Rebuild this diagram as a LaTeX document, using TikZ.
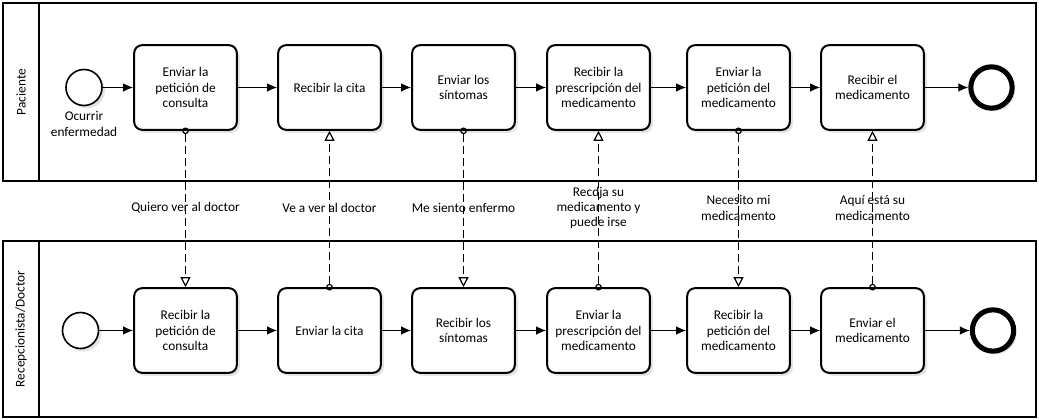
\documentclass[tikz,border=0pt]{standalone}
\usepackage{fontspec}
\setmainfont{Carlito}
\usetikzlibrary{arrows.meta,shadows}

\begin{document}
\begin{tikzpicture}[x=0.75pt,y=-0.75pt,
  font=\fontsize{10}{11.4}\selectfont,
  softshadow/.style={drop shadow={shadow xshift=2.2pt,shadow yshift=-2.2pt,opacity=0.22}},
  task/.style={draw,line width=1.5pt,rounded corners=6pt,minimum width=77pt,
    minimum height=63.5pt,align=center,fill=white,softshadow},
  startev/.style={draw,circle,line width=1.2pt,minimum size=27pt,inner sep=0pt,fill=white,softshadow},
  endev/.style={draw,circle,line width=3.8pt,minimum size=31pt,inner sep=0pt,fill=white,softshadow},
  seq/.style={-{Latex[length=7.5pt,width=6.5pt]},line width=1pt},
  msg/.style={{Circle[open,length=5pt]}-{Triangle[open,length=7.5pt,width=7.5pt]},
    dash pattern=on 6pt off 3pt,line width=0.9pt,shorten <=-2.5pt},
  msglabel/.style={align=center,inner sep=1pt}]

  \useasboundingbox (0,0) rectangle (1039,420);

  % pools
  \draw[line width=2.1pt] (3,3) rectangle (1036,181);
  \draw[line width=1.3pt] (39,3) -- (39,181);
  \node (lanepac) at (21,92) [rotate=90] {Paciente};

  \draw[line width=2.1pt] (3,241) rectangle (1036,417);
  \draw[line width=1.3pt] (39,241) -- (39,417);
  \node (lanedoc) at (21,329) [rotate=90] {Recepcionista/Doctor};

  % Paciente
  \node (s1) at (84,87.5)    [startev] {};
  \node (s1l) at (84,124)    [align=center] {Ocurrir\\enfermedad};
  \node (t1) at (185.5,87.5) [task] {Enviar la\\petición de\\consulta};
  \node (t2) at (329.5,87.5) [task] {Recibir la cita};
  \node (t3) at (463.5,87.5) [task] {Enviar los\\síntomas};
  \node (t4) at (598.5,87.5) [task] {Recibir la\\prescripción del\\medicamento};
  \node (t5) at (738.5,87.5) [task] {Enviar la\\petición del\\medicamento};
  \node (t6) at (872.5,87.5) [task] {Recibir el\\medicamento};
  \node (e1) at (991.5,87.5) [endev] {};

  % Recepcionista/Doctor
  \node (s2) at (80.5,330.5)  [startev] {};
  \node (r1) at (185.5,330.5) [task] {Recibir la\\petición de\\consulta};
  \node (r2) at (329.5,330.5) [task] {Enviar la cita};
  \node (r3) at (463.5,330.5) [task] {Recibir los\\síntomas};
  \node (r4) at (598.5,330.5) [task] {Enviar la\\prescripción del\\medicamento};
  \node (r5) at (738.5,330.5) [task] {Recibir la\\petición del\\medicamento};
  \node (r6) at (872.5,330.5) [task] {Enviar el\\medicamento};
  \node (e2) at (993,330.5)   [endev] {};

  % sequence flows
  \draw[seq] (s1) -- (t1);
  \draw[seq] (t1) -- (t2);
  \draw[seq] (t2) -- (t3);
  \draw[seq] (t3) -- (t4);
  \draw[seq] (t4) -- (t5);
  \draw[seq] (t5) -- (t6);
  \draw[seq] (t6) -- (e1);

  \draw[seq] (s2) -- (r1);
  \draw[seq] (r1) -- (r2);
  \draw[seq] (r2) -- (r3);
  \draw[seq] (r3) -- (r4);
  \draw[seq] (r4) -- (r5);
  \draw[seq] (r5) -- (r6);
  \draw[seq] (r6) -- (e2);

  % message flows
  \node (m1) at (185.5,208) [msglabel] {Quiero ver al doctor};
  \node (m2) at (329.5,208) [msglabel] {Ve a ver al doctor};
  \node (m3) at (463.5,208) [msglabel] {Me siento enfermo};
  \node (m4) at (598.5,208) [msglabel] {Recdja su\\medicamento y\\puede irse};
  \node (m5) at (738.5,208) [msglabel] {Necesito mi\\medicamento};
  \node (m6) at (872.5,208) [msglabel] {Aquí está su\\medicamento};

  \draw[msg] (t1.south) -- (r1.north);
  \draw[msg] (r2.north) -- (t2.south);
  \draw[msg] (t3.south) -- (r3.north);
  \draw[msg] (r4.north) -- (t4.south);
  \draw[msg] (t5.south) -- (r5.north);
  \draw[msg] (r6.north) -- (t6.south);
\end{tikzpicture}
\end{document}
